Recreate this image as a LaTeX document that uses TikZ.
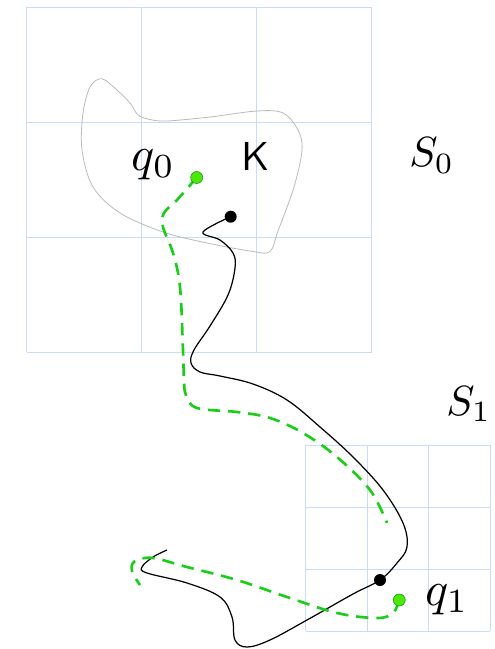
\documentclass[tikz,border=0pt]{standalone}
\usepackage{amsmath,amssymb}
\usepackage{graphicx}
\usepackage{tikz}
\usetikzlibrary{positioning,calc}
\usepackage{xcolor}
\definecolor{gridblue}{RGB}{200,220,246}
\definecolor{pathgreen}{RGB}{25,205,25}
\definecolor{dotgreen}{RGB}{75,232,10}

\begin{document}
\begin{tikzpicture}[x=0.02cm,y=-0.02cm,
  every node/.style={inner sep=0pt},
  gridline/.style={gridblue,line width=0.5pt},
  blob/.style={gray!55,line width=0.45pt},
  trajk/.style={black,line width=0.7pt},
  trajq/.style={pathgreen,line width=1.5pt,dash pattern=on 7pt off 4.5pt},
  kdot/.style={circle,fill=black,minimum size=0.24cm},
  qdot/.style={circle,fill=dotgreen,draw=pathgreen!70!black,line width=0.3pt,minimum size=0.24cm},
  lbl/.style={anchor=base west}]
\useasboundingbox (0,0) rectangle (494,649);
% grid S_0
\draw[gridline] (26.5,7) -- (26.5,352);
\draw[gridline] (141.5,7) -- (141.5,352);
\draw[gridline] (256.5,7) -- (256.5,352);
\draw[gridline] (371.5,7) -- (371.5,352);
\draw[gridline] (26.5,7) -- (371.5,7);
\draw[gridline] (26.5,122) -- (371.5,122);
\draw[gridline] (26.5,237) -- (371.5,237);
\draw[gridline] (26.5,352) -- (371.5,352);
% grid S_1
\draw[gridline] (305.5,445) -- (305.5,631);
\draw[gridline] (367,445) -- (367,631);
\draw[gridline] (428.5,445) -- (428.5,631);
\draw[gridline] (490,445) -- (490,631);
\draw[gridline] (305.5,445) -- (490,445);
\draw[gridline] (305.5,507) -- (490,507);
\draw[gridline] (305.5,569) -- (490,569);
\draw[gridline] (305.5,631) -- (490,631);
% the set K
\draw[blob] plot[smooth cycle,tension=0.55] coordinates {(101.7,78.7) (117,90) (130,103) (138,115) (150,119.5) (167,121) (210,117) (257,111) (283,113) (298,130) (302,150) (294,187) (278,231) (270,251.5) (253,251.5) (207,243) (163,232) (120,213) (93,187) (82,150) (83,113) (90,87)};
% points
\coordinate (k0) at (230.7,216.7);
\coordinate (k1) at (380,580);
\coordinate (kend) at (167,550);
\coordinate (q0) at (196.7,177.5);
\coordinate (q1) at (399.3,600);
\coordinate (qmid) at (387,523);
\coordinate (qend) at (140,585);
% black trajectory
\draw[trajk] plot[smooth,tension=0.6] coordinates {(k0) (203,232) (220,240) (233,253) (235,268) (228,295) (210,326) (194,350) (191,363) (200,372) (220,376) (253,384) (287,400) (320,427) (353,457) (383,490) (403,523) (407,547) (397,563) (k1) (353,594) (307,620) (270,640) (247,647) (235,640) (232,617) (220,597) (187,583) (147,573) (142,567) (153,557) (kend)};
% green trajectory
\draw[trajq] plot[smooth,tension=0.6] coordinates {(q0) (177,200) (164,213) (163,227) (173,253) (180,287) (183,350) (184,380) (186,395) (197,408) (237,412) (270,418) (303,433) (337,457) (370,490) (qmid)};
\draw[trajq] plot[smooth,tension=0.6] coordinates {(q1) (393,613) (377,618) (337,613) (287,597) (237,580) (187,567) (153,558) (135,561) (132,571) (qend)};
% dots
\node[kdot] (k0dot) at (k0) {};
\node[kdot] (k1dot) at (k1) {};
\node[qdot] (q0dot) at (q0) {};
\node[qdot] (q1dot) at (q1) {};
% labels
\node[lbl] (lq0) at (131.5,170) {\scalebox{2.75}{$q_0$}};
\node[lbl] (lq1) at (425,605) {\scalebox{2.75}{$q_1$}};
\node[lbl] (lS0) at (409,166.7) {\scalebox{2.4}{$S_0$}};
\node[lbl] (lS1) at (446,415) {\scalebox{2.4}{$S_1$}};
\node[lbl,font=\sffamily] (lK) at (241.5,170) {\scalebox{2.3}{K}};
\end{tikzpicture}
\end{document}
